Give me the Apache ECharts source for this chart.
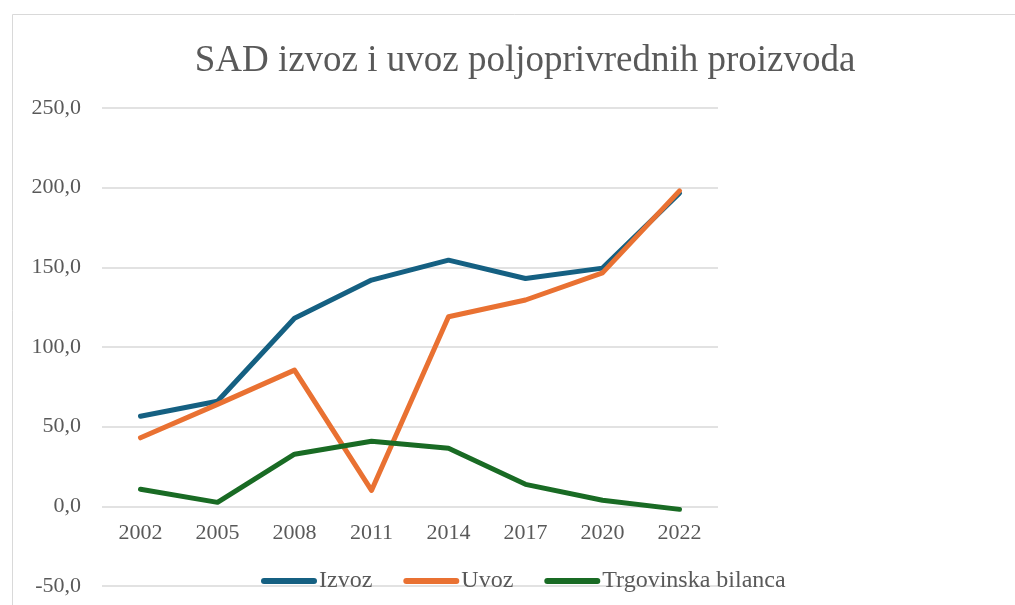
<!DOCTYPE html>
<html><head><meta charset="utf-8">
<script src="https://cdn.jsdelivr.net/npm/echarts@6/dist/echarts.min.js"></script>
<style>html,body{margin:0;padding:0;background:#fff}#c{width:1015px;height:605px}</style>
</head><body><div id="c"></div>
<script>
const categories = ['2002','2005','2008','2011','2014','2017','2020','2022'];
const izvoz = [56.5, 66.0, 118.0, 142.0, 154.5, 143.0, 149.5, 196.5];
const uvoz = [43.0, 64.0, 85.5, 10.0, 119.0, 129.5, 146.5, 198.0];
const bilanca = [10.7, 2.5, 32.7, 40.8, 36.4, 13.8, 3.8, -1.9];
const seriesNames = ['Izvoz', 'Uvoz', 'Trgovinska bilanca'];
const colors = ['#156082', '#E97132', '#196B24'];
const font = '"Liberation Serif", "Times New Roman", serif';

const chart = echarts.init(document.getElementById('c'), null, {renderer: 'canvas'});
const iconPath = 'path://M3,0 L53,0 A3,3 0 0 1 53,6 L3,6 A3,3 0 0 1 3,0 Z';
chart.setOption({
  animation: false,
  color: colors,
  graphic: [{
    type: 'rect', left: 10, top: 12, silent: true,
    shape: {width: 1100, height: 700},
    style: {fill: 'none', stroke: '#d9d9d9', lineWidth: 1}
  }],
  title: {
    text: 'SAD izvoz i uvoz poljoprivrednih proizvoda',
    left: 520, textAlign: 'center', top: 38,
    textStyle: {fontFamily: font, fontSize: 37, fontWeight: 'normal', color: '#595959'}
  },
  legend: {
    data: seriesNames,
    left: 256, top: 564,
    icon: iconPath, itemWidth: 56, itemHeight: 6, itemGap: 31,
    textStyle: {fontFamily: font, fontSize: 24, color: '#595959', padding: [0, 0, 0, -3]}
  },
  grid: {left: 102, right: 297, top: 108, bottom: 19, containLabel: false, outerBoundsMode: 'none'},
  xAxis: {
    type: 'category', data: categories, boundaryGap: true,
    position: 'bottom', offset: -80,
    axisLine: {show: false, onZero: false},
    axisTick: {show: false},
    axisLabel: {fontFamily: font, fontSize: 22, color: '#595959', margin: 16}
  },
  yAxis: {
    type: 'value', min: -50, max: 250, interval: 50,
    axisLine: {show: false}, axisTick: {show: false},
    splitLine: {lineStyle: {color: '#d9d9d9', width: 1.5}},
    axisLabel: {fontFamily: font, fontSize: 22, color: '#595959', margin: 21,
      formatter: v => v.toFixed(1).replace('.', ',')}
  },
  series: [
    {name: seriesNames[0], type: 'line', data: izvoz, symbol: 'none', lineStyle: {width: 5, cap: 'round', join: 'round'}},
    {name: seriesNames[1], type: 'line', data: uvoz, symbol: 'none', lineStyle: {width: 5, cap: 'round', join: 'round'}},
    {name: seriesNames[2], type: 'line', data: bilanca, symbol: 'none', lineStyle: {width: 5, cap: 'round', join: 'round'}}
  ]
});
</script></body></html>
